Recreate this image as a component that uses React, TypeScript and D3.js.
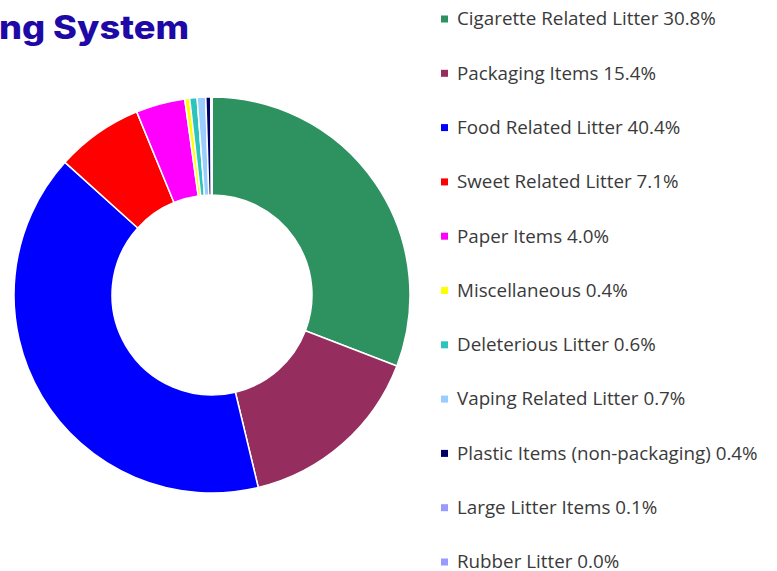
import React from "react";
import * as d3 from "d3";

const categories = [
  "Cigarette Related Litter",
  "Packaging Items",
  "Food Related Litter",
  "Sweet Related Litter",
  "Paper Items",
  "Miscellaneous",
  "Deleterious Litter",
  "Vaping Related Litter",
  "Plastic Items (non-packaging)",
  "Large Litter Items",
  "Rubber Litter",
];
const values = [30.8, 15.4, 40.4, 7.1, 4.0, 0.4, 0.6, 0.7, 0.4, 0.1, 0.0];
const colors = [
  "#2E9160",
  "#952D5F",
  "#0000FF",
  "#FF0000",
  "#FF00FF",
  "#FFFF00",
  "#2EC4BE",
  "#99CCFF",
  "#000066",
  "#9999FF",
  "#9999FF",
];
const titleText = "ng System";

const W = 777;
const H = 571;

export default function App() {
  const cx = 212;
  const cy = 295;
  const outerR = 198;
  const innerR = 100;

  const data = categories.map((c, i) => ({ name: c, value: values[i], color: colors[i] }));
  const pie = d3
    .pie<{ name: string; value: number; color: string }>()
    .sort(null)
    .value((d) => d.value)
    .startAngle(0)
    .endAngle(2 * Math.PI);
  const arcs = pie(data);
  const arcGen = d3
    .arc<d3.PieArcDatum<{ name: string; value: number; color: string }>>()
    .innerRadius(innerR)
    .outerRadius(outerR);

  const legendY = d3
    .scalePoint<string>()
    .domain(categories)
    .range([19, 562]);

  return (
    <svg
      width={W}
      height={H}
      viewBox={`0 0 ${W} ${H}`}
      style={{ position: "absolute", left: 0, top: 0, background: "#fff" }}
    >
      <rect x={0} y={0} width={W} height={H} fill="#fff" />
      <text
        x={-1}
        y={39}
        textLength={190}
        lengthAdjust="spacingAndGlyphs"
        fontFamily="Inter, 'Liberation Sans', Arial, sans-serif"
        fontWeight={800}
        fontSize={32}
        fill="#1E08A6"
      >
        {titleText}
      </text>
      <g transform={`translate(${cx},${cy})`}>
        {arcs.map((a, i) => (
          <path
            key={i}
            d={arcGen(a) || ""}
            fill={a.data.color}
            stroke="#fff"
            strokeWidth={1.5}
            strokeLinejoin="round"
          />
        ))}
      </g>
      <g>
        {categories.map((c, i) => {
          const y = legendY(c) as number;
          return (
            <g key={c}>
              <rect x={441} y={y - 3.5} width={7} height={7} fill={colors[i]} />
              <text
                x={457}
                y={y}
                dy="0.34em"
                fontFamily="'Open Sans', 'Noto Sans', sans-serif"
                fontSize={18.8}
                fill="#3A3A3A"
              >
                {`${c} ${values[i].toFixed(1)}%`}
              </text>
            </g>
          );
        })}
      </g>
    </svg>
  );
}
